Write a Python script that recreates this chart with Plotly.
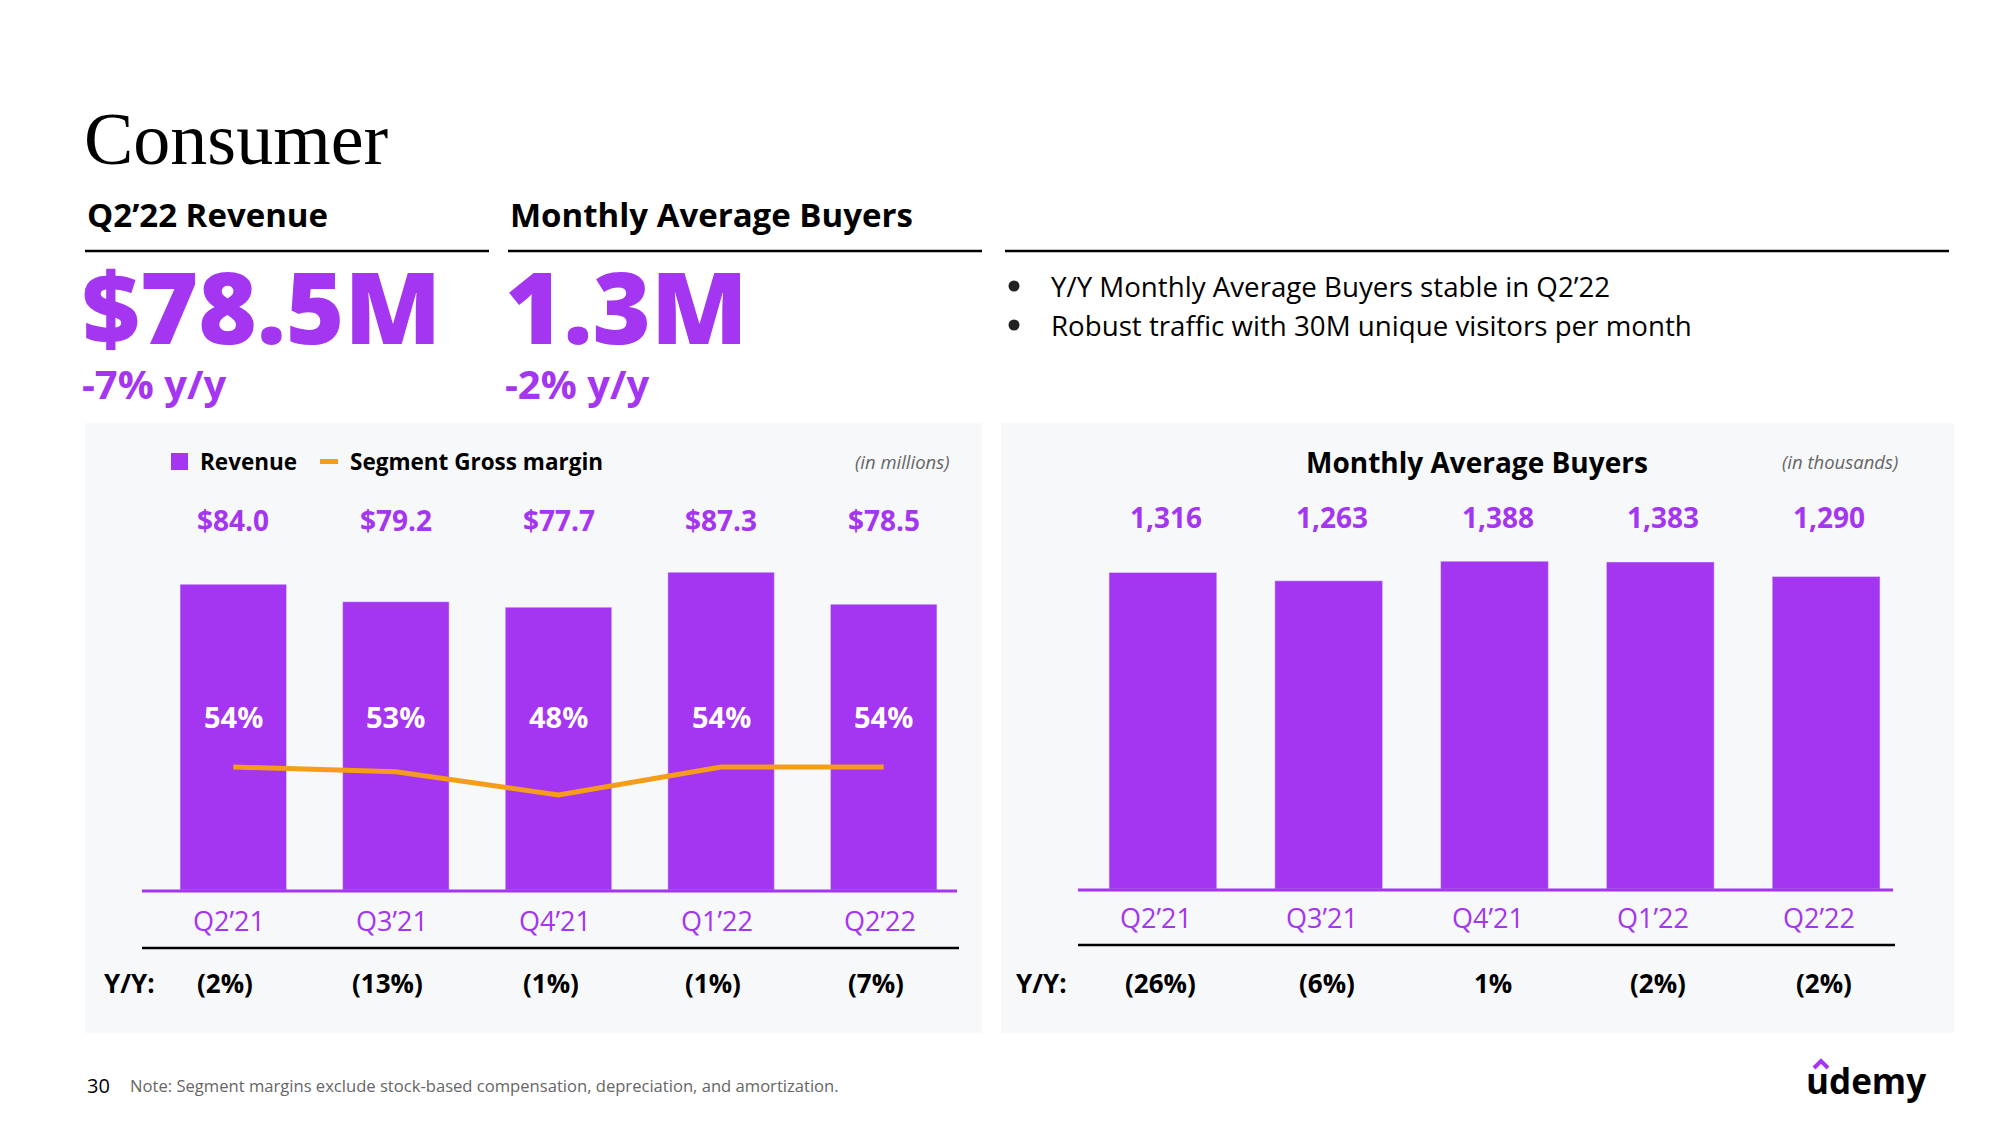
import plotly.graph_objects as go

# ---------------- data ----------------
quarters = ["Q2’21", "Q3’21", "Q4’21", "Q1’22", "Q2’22"]
revenue = [84.0, 79.2, 77.7, 87.3, 78.5]
margin_pct = [54, 53, 48, 54, 54]
revenue_yy = ["(2%)", "(13%)", "(1%)", "(1%)", "(7%)"]
buyers = [1316, 1263, 1388, 1383, 1290]
buyers_yy = ["(26%)", "(6%)", "1%", "(2%)", "(2%)"]

headline_revenue = "$78.5M"
headline_revenue_yy = "-7% y/y"
headline_buyers = "1.3M"
headline_buyers_yy = "-2% y/y"
bullets = ["Y/Y Monthly Average Buyers stable in Q2’22",
           "Robust traffic with 30M unique visitors per month"]

# ---------------- style ----------------
W, H = 2000, 1125
OFF = 8  # page body margin of the html page
PURPLE = "#A435F0"
ORANGE = "#F59C1A"
PANEL = "#F7F8FA"
FONT = "Open Sans"
BUYERS_FLOOR = -700  # axis floor of the buyers chart (truncated scale)


def px(x):
    return (x - OFF) / W


def py(y):
    return 1 - (y - OFF) / H


fig = go.Figure()

fig.add_trace(go.Bar(x=quarters, y=revenue, marker_color=PURPLE, width=0.655,
                     xaxis="x", yaxis="y", showlegend=False, name="Revenue"))
fig.add_trace(go.Scatter(x=quarters, y=margin_pct, mode="lines",
                         line=dict(color=ORANGE, width=5),
                         xaxis="x", yaxis="y2", showlegend=False,
                         name="Segment Gross margin"))
fig.add_trace(go.Bar(x=quarters, y=[b - BUYERS_FLOOR for b in buyers], base=BUYERS_FLOOR,
                     marker_color=PURPLE, width=0.65, xaxis="x2", yaxis="y3",
                     showlegend=False, name="Monthly Average Buyers",
                     customdata=buyers, hovertemplate="%{x}: %{customdata:,}<extra></extra>"))

hidden = dict(visible=False, showgrid=False, zeroline=False, fixedrange=True)
top_px = 480
fig.update_layout(
    width=W, height=H,
    margin=dict(l=0, r=0, t=0, b=0),
    paper_bgcolor="white", plot_bgcolor="rgba(0,0,0,0)",
    xaxis=dict(domain=[px(152), px(965)], type="category", range=[-0.5, 4.5],
               anchor="y", **hidden),
    yaxis=dict(domain=[py(890), py(top_px)], range=[0, (890 - top_px) / 3.64],
               anchor="x", **hidden),
    yaxis2=dict(overlaying="y", range=[27.66, 27.66 + (890 - top_px) / 4.67],
                anchor="x", **hidden),
    xaxis2=dict(domain=[px(1080), px(1909)], type="category", range=[-0.5, 4.5],
                anchor="y3", **hidden),
    yaxis3=dict(domain=[py(889), py(top_px)],
                range=[BUYERS_FLOOR, BUYERS_FLOOR + (889 - top_px) / 0.157],
                anchor="x2", **hidden),
)

shapes = []
# panels
shapes.append(dict(type="rect", xref="paper", yref="paper", x0=px(85), x1=px(982),
                   y0=py(1033), y1=py(423), fillcolor=PANEL, line_width=0, layer="below"))
shapes.append(dict(type="rect", xref="paper", yref="paper", x0=px(1001), x1=px(1954),
                   y0=py(1033), y1=py(423), fillcolor=PANEL, line_width=0, layer="below"))
# header rules
for x0, x1 in [(85, 489), (508, 982), (1005, 1949)]:
    shapes.append(dict(type="line", xref="paper", yref="paper", x0=px(x0), x1=px(x1),
                       y0=py(251), y1=py(251), line=dict(color="black", width=2.5)))
# baselines
shapes.append(dict(type="line", xref="paper", yref="paper", x0=px(142), x1=px(957),
                   y0=py(891), y1=py(891), line=dict(color=PURPLE, width=3)))
shapes.append(dict(type="line", xref="paper", yref="paper", x0=px(1078), x1=px(1893),
                   y0=py(890), y1=py(890), line=dict(color=PURPLE, width=3)))
# table rules
shapes.append(dict(type="line", xref="paper", yref="paper", x0=px(142), x1=px(959),
                   y0=py(948), y1=py(948), line=dict(color="black", width=2.5)))
shapes.append(dict(type="line", xref="paper", yref="paper", x0=px(1078), x1=px(1895),
                   y0=py(945), y1=py(945), line=dict(color="black", width=2.5)))
# legend symbols
shapes.append(dict(type="rect", xref="paper", yref="paper", x0=px(171), x1=px(188),
                   y0=py(470), y1=py(453), fillcolor=PURPLE, line_width=0))
shapes.append(dict(type="rect", xref="paper", yref="paper", x0=px(320), x1=px(338),
                   y0=py(464), y1=py(459), fillcolor=ORANGE, line_width=0))
# bullet dots
for i in range(len(bullets)):
    yy = 286 + i * 39
    shapes.append(dict(type="circle", xref="paper", yref="paper",
                       x0=px(1014 - 5.5), x1=px(1014 + 5.5), y0=py(yy + 5.5), y1=py(yy - 5.5),
                       fillcolor="#222222", line_width=0))
# udemy caret
shapes.append(dict(type="path", xref="paper", yref="paper",
                   path=f"M {px(1814)},{py(1068)} L {px(1821)},{py(1061)} L {px(1828)},{py(1068)}",
                   line=dict(color=PURPLE, width=4)))
fig.update_layout(shapes=shapes)

ann = []


def text(x, y, s, size, color="black", weight=400, xanchor="center", xref="paper",
         style="normal", family=FONT, xshift=0, align="center"):
    ann.append(dict(x=x if xref != "paper" else px(x), y=py(y), xref=xref, yref="paper",
                    text=s, showarrow=False, xanchor=xanchor, yanchor="middle",
                    xshift=xshift, align=align,
                    font=dict(family=family, size=size, color=color, weight=weight,
                              style=style)))


def headline(x, big, small):
    s = (f"<span style='font-size:100px;font-weight:800'>{big}</span><br>"
         f"<span style='font-size:40px;font-weight:700'>{small}</span>")
    text(x, 324, s, 42.3, color=PURPLE, weight=700, xanchor="left", align="left")


# header
text(82, 139, "Consumer", 74, family="Liberation Serif", xanchor="left")
text(85, 214, "Q2’22 Revenue", 33, weight=700, xanchor="left")
text(508, 214, "Monthly Average Buyers", 33, weight=700, xanchor="left")
headline(80, headline_revenue, headline_revenue_yy)
headline(503, headline_buyers, headline_buyers_yy)
for i, b in enumerate(bullets):
    yy = 286 + i * 39
    text(1049, yy, b, 27.7, xanchor="left")

# left chart
text(198, 461, "Revenue", 22.5, weight=700, xanchor="left")
text(348, 461, "Segment Gross margin", 22.5, weight=700, xanchor="left")
text(952, 461, "(in millions)", 18.5, color="#666666", style="italic", xanchor="right")
for i, q in enumerate(quarters):
    text(q, 520, f"${revenue[i]:.1f}", 28, color=PURPLE, weight=700, xref="x")
    text(q, 716, f"{margin_pct[i]}%", 29, color="white", weight=700, xref="x")
    text(q, 920, q, 27, color=PURPLE, xref="x", xshift=-4)
    text(q, 983, revenue_yy[i], 26, weight=700, xref="x", xshift=-8)
text(102, 983, "Y/Y:", 26, weight=700, xanchor="left")

# right chart
text(1477, 462, "Monthly Average Buyers", 28, weight=700)
text(1900, 461, "(in thousands)", 18.5, color="#666666", style="italic", xanchor="right")
for i, q in enumerate(quarters):
    text(q, 517, f"{buyers[i]:,}", 28, color=PURPLE, weight=700, xref="x2", xshift=3)
    text(q, 917, q, 27, color=PURPLE, xref="x2", xshift=-7)
    text(q, 983, buyers_yy[i], 26, weight=700, xref="x2", xshift=-2)
text(1014, 983, "Y/Y:", 26, weight=700, xanchor="left")

# footer
text(85, 1085, "30", 20, xanchor="left")
text(128, 1085, "Note: Segment margins exclude stock-based compensation, depreciation, and amortization.",
     16.6, color="#666666", xanchor="left")
text(1866, 1080, "udemy", 35, weight=700)

fig.update_layout(annotations=ann)
fig.write_html("out.html")
